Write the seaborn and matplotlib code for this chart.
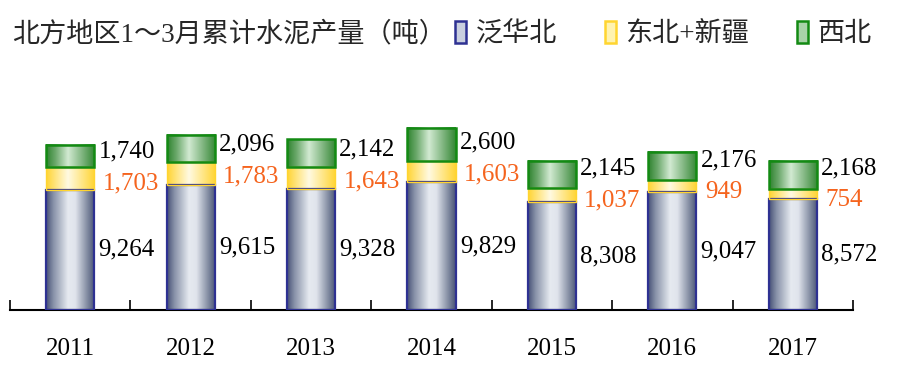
import numpy as np
import pandas as pd
import matplotlib
matplotlib.use("Agg")
import matplotlib.pyplot as plt
import seaborn as sns
from matplotlib.patches import Patch
from matplotlib.colors import LinearSegmentedColormap

# ---- data ----
years = ["2011", "2012", "2013", "2014", "2015", "2016", "2017"]
north = [9264, 9615, 9328, 9829, 8308, 9047, 8572]      # 泛华北
ne_xj = [1703, 1783, 1643, 1603, 1037, 949, 754]        # 东北+新疆
nw = [1740, 2096, 2142, 2600, 2145, 2176, 2168]         # 西北
series_names = ["泛华北", "东北+新疆", "西北"]
title = "北方地区1～3月累计水泥产量（吨）"

sns.set_theme(style="white")
plt.rcParams["font.family"] = ["Liberation Serif", "Noto Sans CJK SC", "DejaVu Sans"]

df = pd.DataFrame({"year": years, "north": north, "ne_xj": ne_xj, "nw": nw})
df["c1"] = df["north"]
df["c2"] = df["north"] + df["ne_xj"]
df["c3"] = df["c2"] + df["nw"]

fig = plt.figure(figsize=(9.04, 3.70), dpi=100)
ax_h_px = 210
ax = fig.add_axes([10 / 904, 60 / 370, 843 / 904, ax_h_px / 370])
ymax = 16150

# styles per layer (bottom -> top)
edge_cols = ["#2E3192", "#FFD530", "#138A13"]
edge_lw = [1.6, 1.0, 1.8]
label_cols = ["black", "#F5641E", "black"]
grad_stops = [
    [(0.0, (70, 80, 118)), (0.15, (135, 145, 168)), (0.45, (230, 234, 240)),
     (0.6, (224, 228, 236)), (0.85, (128, 138, 160)), (1.0, (72, 82, 116))],
    [(0.0, (255, 212, 50)), (0.45, (255, 250, 226)), (1.0, (255, 212, 50))],
    [(0.0, (45, 130, 45)), (0.2, (110, 170, 110)), (0.45, (210, 234, 210)),
     (0.8, (110, 170, 110)), (1.0, (50, 135, 50))],
]
cmaps = [LinearSegmentedColormap.from_list(
    f"g{i}", [(p, tuple(c / 255 for c in col)) for p, col in stops])
    for i, stops in enumerate(grad_stops)]

# draw cumulative bars (top layer first so lower layers overlay)
for col in ["c3", "c2", "c1"]:
    sns.barplot(data=df, x="year", y=col, color="white", width=0.4,
                ax=ax, saturation=1, errorbar=None)

n = len(years)
cums = [df["c1"].values, df["c2"].values, df["c3"].values]
vals = [north, ne_xj, nw]
patches = list(ax.patches)
layer_of_call = [2, 1, 0]
grad = np.linspace(0, 1, 256).reshape(1, -1)

# minimum vertical spacing between labels of one bar, in data units
sep = 32 * ymax / ax_h_px

label_pos = {}
for call_idx in range(3):
    layer = layer_of_call[call_idx]
    for j in range(n):
        p = patches[call_idx * n + j]
        bottom = 0 if layer == 0 else cums[layer - 1][j]
        height = vals[layer][j]
        p.set_y(bottom)
        p.set_height(height)
        p.set_facecolor("none")
        p.set_edgecolor(edge_cols[layer])
        p.set_linewidth(edge_lw[layer])
        p.set_zorder(3 + layer)
        x0, w = p.get_x(), p.get_width()
        ax.imshow(grad, cmap=cmaps[layer], extent=[x0, x0 + w, bottom, bottom + height],
                  aspect="auto", interpolation="bilinear", zorder=2 + layer * 0.01)
        label_pos[(layer, j)] = (x0 + w, bottom + height / 2, height)

for j in range(n):
    yb = label_pos[(0, j)][1]
    yy = label_pos[(1, j)][1]
    yg = label_pos[(2, j)][1]
    if yg - yy < sep:
        mid = (yg + yy) / 2
        yg, yy = mid + sep / 2, mid - sep / 2
    if yy - yb < sep:
        yb = yy - sep
    for layer, yv in zip(range(3), [yb, yy, yg]):
        xr, _, val = label_pos[(layer, j)]
        ax.annotate(f"{val:,}", xy=(xr, yv),
                    xytext=(3 if layer != 1 else 6, 0), textcoords="offset points",
                    ha="left", va="center", fontsize=18, color=label_cols[layer],
                    zorder=10)

ax.set_xlim(-0.5, n - 0.5)
ax.set_ylim(0, ymax)
ax.set_xlabel("")
ax.set_ylabel("")
ax.set_yticks([])
for s in ["top", "right", "left"]:
    ax.spines[s].set_visible(False)
ax.spines["bottom"].set_color("black")
ax.spines["bottom"].set_linewidth(1.5)
ax.set_xticks(range(n))
ax.set_xticklabels(years)
ax.set_xticks(np.arange(-0.5, n, 1.0), minor=True)
ax.tick_params(axis="x", which="major", length=0, pad=20, labelsize=18, colors="black")
ax.tick_params(axis="x", which="minor", length=7, width=1.2, direction="in",
               color="black", bottom=True)
ax.grid(False)

fig.text(12 / 904, 1 - 35 / 370, title, fontsize=19.5, ha="left", va="center")

handles = [
    Patch(facecolor="#C9CFDF", edgecolor=edge_cols[0], linewidth=1.8),
    Patch(facecolor="#FFF3B0", edgecolor=edge_cols[1], linewidth=1.8),
    Patch(facecolor="#A9D3A9", edgecolor=edge_cols[2], linewidth=1.8),
]
fig.legend(handles, series_names, loc="center left",
           bbox_to_anchor=(455 / 904, 1 - 34 / 370), ncol=3, frameon=False,
           fontsize=19.5, handlelength=0.42, handleheight=0.85, handletextpad=0.35,
           columnspacing=1.75, borderaxespad=0, borderpad=0)

fig.savefig("out.png", dpi=100)
